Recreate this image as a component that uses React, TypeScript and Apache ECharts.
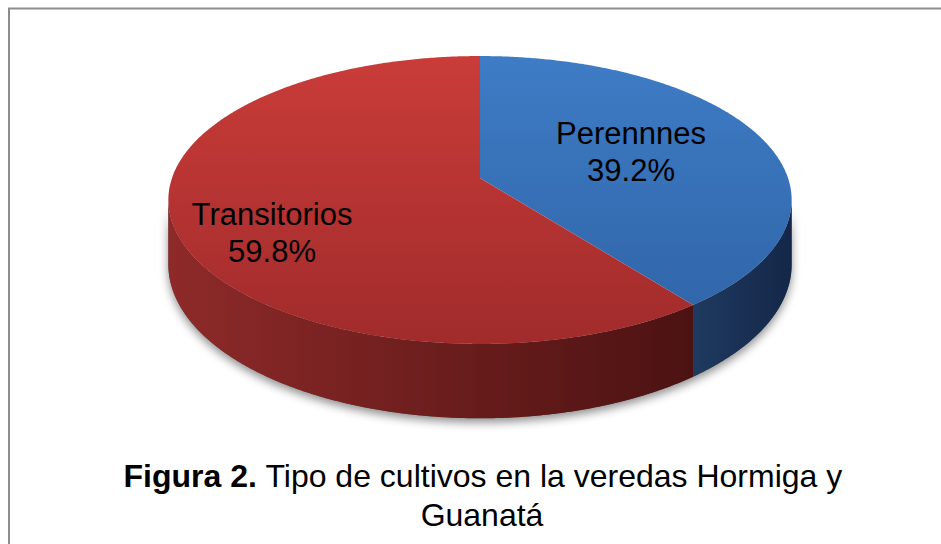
import React, { useEffect, useRef } from "react";
import * as echarts from "echarts";

// ---- data ----
const categories: string[] = ["Perennnes", "Transitorios"];
const values: number[] = [39.2, 59.8];
const titleBold = "Figura 2.";
const titleRest = " Tipo de cultivos en la veredas Hormiga y";
const titleLine2 = "Guanatá";

// ---- styles / geometry ----
const topColors = [
  ["#3e7cc5", "#2f63a6"],
  ["#c93c39", "#a12b2b"],
];
const sideColors = [
  ["#1f3a60", "#142748"],
  ["#8e2a29", "#4c1212"],
];
const labelPos = [
  [631, 152],
  [272, 233],
];
const CX = 480;
const CY = 178;
const A = 140.6;
const B = 308;
const K = -0.1527;
const H = 63;
const FONT = "'Liberation Sans', Arial, sans-serif";

function proj(phiDeg: number, r: number, dz: number): number[] {
  const p = (phiDeg * Math.PI) / 180;
  const u = r * Math.sin(p);
  const v = -r * Math.cos(p);
  const den = 1 + K * v;
  return [CX + (B * u) / den, CY + (A * v + H * dz) / den];
}

const VIS_L = (Math.acos(K) * 180) / Math.PI;
const VIS_R = 360 - VIS_L;

function arc(a: number, b: number, dz: number): number[][] {
  const pts: number[][] = [];
  const n = Math.max(2, Math.ceil(Math.abs(b - a) / 0.5));
  for (let i = 0; i <= n; i++) pts.push(proj(a + ((b - a) * i) / n, 1, dz));
  return pts;
}

export default function App() {
  const ref = useRef<HTMLDivElement>(null);
  useEffect(() => {
    if (!ref.current) return;
    const chart = echarts.init(ref.current, undefined, { renderer: "svg" });
    const total = values.reduce((s, v) => s + v, 0);
    const starts: number[] = [];
    let acc = 0;
    values.forEach((v) => {
      starts.push((acc / total) * 360);
      acc += v;
    });

    const renderItem = (params: any) => {
      const i = params.dataIndex;
      const a0 = starts[i];
      const a1 = a0 + (values[i] / total) * 360;
      const children: any[] = [];
      if (i === 0) {
        const sh = arc(VIS_L, VIS_R, 0).concat(arc(VIS_R, VIS_L, 1));
        children.push({
          type: "polygon",
          z2: 0,
          shape: { points: sh },
          style: {
            fill: "#555",
            shadowBlur: 10,
            shadowColor: "rgba(0,0,0,0.45)",
            shadowOffsetY: 4,
          },
        });
      }
      const s0 = Math.max(a0, VIS_L);
      const s1 = Math.min(a1, VIS_R);
      if (s1 > s0) {
        const p0 = proj(s0, 1, 0);
        const p1 = proj(s1, 1, 0);
        const pts = arc(s0, s1, 0).concat(arc(s1, s0, 1));
        children.push({
          type: "polygon",
          z2: 1,
          shape: { points: pts },
          style: {
            fill: new echarts.graphic.LinearGradient(
              Math.min(p0[0], p1[0]),
              0,
              Math.max(p0[0], p1[0]),
              0,
              [
                { offset: 0, color: sideColors[i][0] },
                { offset: 1, color: sideColors[i][1] },
              ],
              true
            ),
          },
        });
      }
      const top = [proj(0, 0, 0)].concat(arc(a0, a1, 0));
      children.push({
        type: "polygon",
        z2: 5,
        shape: { points: top },
        style: {
          fill: new echarts.graphic.LinearGradient(
            0,
            CY - A / (1 - K),
            0,
            CY + A / (1 + K),
            [
              { offset: 0, color: topColors[i][0] },
              { offset: 1, color: topColors[i][1] },
            ],
            true
          ),
        },
      });
      return { type: "group", children };
    };

    const labels = categories.map((c, i) => ({
      type: "text",
      x: labelPos[i][0],
      y: labelPos[i][1],
      z: 10,
      style: {
        text: c + "\n" + values[i].toFixed(1) + "%",
        fill: "#000",
        font: "31px " + FONT,
        lineHeight: 37,
        align: "center",
        verticalAlign: "middle",
      },
    }));

    chart.setOption({
      animation: false,
      backgroundColor: "#fff",
      series: [
        {
          type: "custom",
          coordinateSystem: "none",
          renderItem,
          data: categories.map((c, i) => ({ name: c, value: values[i] })),
        },
      ],
      graphic: [
        {
          type: "rect",
          shape: { x: 9, y: 8.5, width: 1000, height: 1000 },
          style: { fill: "none", stroke: "#8c8c8c", lineWidth: 2 },
        },
        ...labels,
        {
          type: "text",
          x: 483,
          y: 476,
          z: 10,
          style: {
            text: "{b|" + titleBold + "}{r|" + titleRest + "}",
            align: "center",
            verticalAlign: "middle",
            rich: {
              b: { font: "bold 32px " + FONT, fill: "#000" },
              r: { font: "32px " + FONT, fill: "#000" },
            },
          },
        },
        {
          type: "text",
          x: 482,
          y: 515,
          z: 10,
          style: {
            text: titleLine2,
            fill: "#000",
            font: "32px " + FONT,
            align: "center",
            verticalAlign: "middle",
          },
        },
      ],
    });
    return () => chart.dispose();
  }, []);
  return (
    <div
      ref={ref}
      style={{ position: "fixed", left: 0, top: 0, width: 941, height: 544 }}
    />
  );
}
